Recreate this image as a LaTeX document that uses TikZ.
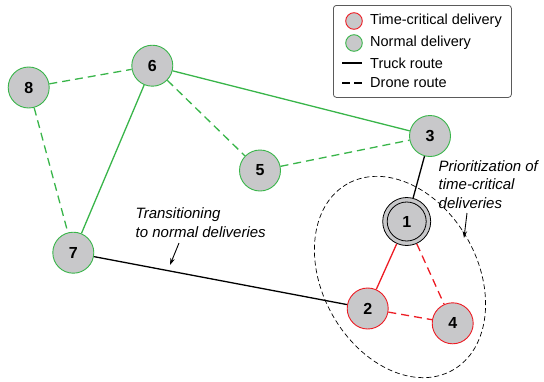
\documentclass[tikz,border=0pt]{standalone}
\usepackage{fontspec}
\setmainfont{Liberation Sans}
\usetikzlibrary{arrows.meta}
\definecolor{gline}{RGB}{57,181,74}
\definecolor{rline}{RGB}{237,28,36}
\definecolor{nfill}{RGB}{200,200,202}
\definecolor{boxline}{RGB}{90,90,90}
\begin{document}
\begin{tikzpicture}[x=1pt,y=-1pt,
  normal/.style={circle,draw=gline,fill=nfill,line width=0.9pt,minimum size=41pt,inner sep=0pt,
    font=\fontsize{16}{16}\selectfont\bfseries},
  critical/.style={normal,draw=rline},
  depot/.style={normal,draw=black,line width=0.8pt,minimum size=48pt},
  truck/.style={line width=1.3pt},
  drone/.style={line width=1.3pt,dash pattern=on 8pt off 5pt},
  grp/.style={line width=0.7pt,dash pattern=on 5pt off 3pt},
  note/.style={font=\fontsize{15}{18.5}\selectfont\itshape,align=left,inner sep=0pt,anchor=north west},
  pointer/.style={line width=0.9pt,-{Stealth[length=7pt,width=4.5pt]}},
  legtext/.style={font=\fontsize{14.5}{17}\selectfont,anchor=west,inner sep=0pt},
  legdot/.style={circle,fill=nfill,line width=0.9pt,minimum size=16.6pt,inner sep=0pt}
]
\useasboundingbox (0,0) rectangle (544,381);

% group ellipse
\draw[grp,rotate around={119.5:(400,277)}] (400,277) ellipse [x radius=107pt, y radius=77.5pt];

% nodes
\node[normal] (n8) at (28.7,87.5) {8};
\node[normal] (n6) at (152.3,65.7) {6};
\node[normal] (n5) at (260,170.5) {5};
\node[normal] (n3) at (430,136) {3};
\node[normal] (n7) at (73.3,252.7) {7};
\node[depot] (n1) at (406.7,221.5) {1};
\draw[line width=0.8pt] (n1.center) circle [radius=19.5pt];
\node[critical] (n2) at (367.7,308.5) {2};
\node[critical] (n4) at (452.7,323.3) {4};

% edges
\draw[drone,gline] (n8) -- (n6);
\draw[drone,gline] (n8) -- (n7);
\draw[truck,gline] (n6) -- (n7);
\draw[drone,gline] (n6) -- (n5);
\draw[truck,gline] (n6) -- (n3);
\draw[drone,gline] (n5) -- (n3);
\draw[truck,black] (n3) -- (n1);
\draw[truck,rline] (n1) -- (n2);
\draw[drone,rline] (n1) -- (n4);
\draw[drone,rline] (n2) -- (n4);
\draw[truck,black] (n7) -- (n2);

% annotations
\node[note] (t1) at (135.5,207.5) {Transitioning\\to normal deliveries};
\coordinate (a1s) at (179,243);
\coordinate (a1e) at (170,265);
\draw[pointer] (a1s) -- (a1e);

\node[note] (t2) at (438.5,160) {Prioritization of\\time-critical\\deliveries};
\coordinate (a2s) at (467,213);
\coordinate (a2e) at (464,238);
\draw[pointer] (a2s) -- (a2e);

% legend
\node[draw=boxline,line width=0.8pt,rounded corners=3pt,minimum width=178pt,minimum height=92pt,
  inner sep=0pt,anchor=north west] (leg) at (333,5) {};
\node[legdot,draw=rline] (l1) at (354,21) {};
\node[legtext] (l1t) at (370,20.5) {Time-critical delivery};
\node[legdot,draw=gline] (l2) at (354,43) {};
\node[legtext] (l2t) at (370,43) {Normal delivery};
\coordinate (l3a) at (342,63);
\coordinate (l3b) at (362,63);
\draw[line width=1.1pt] (l3a) -- (l3b);
\node[legtext] (l3t) at (370,63) {Truck route};
\coordinate (l4a) at (342,83);
\coordinate (l4b) at (362,83);
\draw[line width=1.1pt,dash pattern=on 8pt off 4pt] (l4a) -- (l4b);
\node[legtext] (l4t) at (370,83) {Drone route};
\end{tikzpicture}
\end{document}
